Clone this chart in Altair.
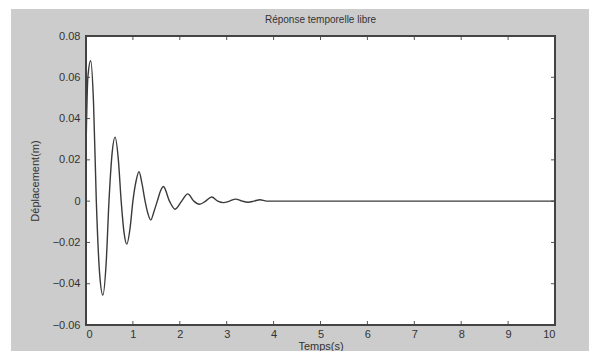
import altair as alt
import pandas as pd

# Time (s) and displacement (m)
t_vals = [0.0, 0.04, 0.10, 0.16, 0.22, 0.29, 0.36, 0.43, 0.49, 0.56, 0.62, 0.69, 0.75, 0.81,
          0.87, 0.94, 1.00, 1.07, 1.13, 1.19, 1.26, 1.32, 1.38, 1.45, 1.52, 1.59, 1.65,
          1.78, 1.90, 2.04, 2.17, 2.30, 2.42, 2.55, 2.68, 2.81, 2.93, 3.06, 3.19, 3.33,
          3.46, 3.58, 3.71, 3.85, 10.0]
d_vals = [0.025, 0.060, 0.068, 0.048, 0.0, -0.035, -0.0455, -0.030, 0.0, 0.024, 0.031, 0.020, 0.0, -0.015,
          -0.0208, -0.013, 0.0, 0.010, 0.0143, 0.009, 0.0, -0.006, -0.0091, -0.005, 0.0, 0.005, 0.0071,
          0.0, -0.0039, 0.0, 0.0035, 0.0, -0.0015, 0.0, 0.002, 0.0, -0.0007, 0.0, 0.001, 0.0,
          -0.0005, 0.0, 0.0007, 0.0, 0.0]

x_ticks = [0, 1, 2, 3, 4, 5, 6, 7, 8, 9, 10]
y_ticks = [-0.06, -0.04, -0.02, 0.0, 0.02, 0.04, 0.06, 0.08]
title_text = ["Réponse temporelle libre"]

W, H = 469, 289
FONT = "Liberation Sans"

df = pd.DataFrame({"t": t_vals, "d": d_vals})
xt = pd.DataFrame({"t": x_ticks})
yt = pd.DataFrame({"d": y_ticks})
tt = pd.DataFrame({"title": title_text})

xscale = alt.Scale(domain=[0, 10], nice=False, zero=False)
yscale = alt.Scale(domain=[-0.06, 0.08], nice=False, zero=False)

# white margins of the figure (top and left), plot area fill
strip_top = alt.Chart(df).mark_rect(color="#ffffff").encode(
    x=alt.value(-90), x2=alt.value(510), y=alt.value(-40), y2=alt.value(-27))
strip_left = alt.Chart(df).mark_rect(color="#ffffff").encode(
    x=alt.value(-90), x2=alt.value(-75), y=alt.value(-40), y2=alt.value(330))
plotbg = alt.Chart(df).mark_rect(color="#ffffff").encode(
    x=alt.value(0), x2=alt.value(W), y=alt.value(0), y2=alt.value(H))

line = alt.Chart(df).mark_line(color="#3a3a3a", strokeWidth=1.4, interpolate="monotone").encode(
    x=alt.X("t:Q", scale=xscale,
            axis=alt.Axis(title="Temps(s)", values=x_ticks, ticks=False, domain=False, grid=False,
                          labelPadding=3, labelFontSize=11, labelColor="#333", labelFont=FONT,
                          titleFont=FONT, titleFontSize=11, titleFontWeight="normal", titleColor="#333",
                          titleY=21, titleBaseline="middle", zindex=2)),
    y=alt.Y("d:Q", scale=yscale,
            axis=alt.Axis(title="Déplacement(m)", values=y_ticks, ticks=False, domain=False, grid=False,
                          labelExpr="datum.value == 0 ? '0' : format(datum.value, '.2f')",
                          labelPadding=6, labelFontSize=11, labelColor="#333", labelFont=FONT,
                          titleFont=FONT, titleFontSize=11, titleFontWeight="normal", titleColor="#333",
                          titleX=-51, titleBaseline="middle", titleAngle=-90, zindex=2)),
)

tick_style = dict(color="#555555", strokeWidth=1)
xb = alt.Chart(xt).mark_rule(**tick_style).encode(x=alt.X("t:Q", scale=xscale), y=alt.value(H), y2=alt.value(H - 4))
xtp = alt.Chart(xt).mark_rule(**tick_style).encode(x=alt.X("t:Q", scale=xscale), y=alt.value(0), y2=alt.value(4))
yl = alt.Chart(yt).mark_rule(**tick_style).encode(y=alt.Y("d:Q", scale=yscale), x=alt.value(0), x2=alt.value(4))
yr = alt.Chart(yt).mark_rule(**tick_style).encode(y=alt.Y("d:Q", scale=yscale), x=alt.value(W - 4), x2=alt.value(W))

frame = alt.Chart(df).mark_rect(fillOpacity=0, stroke="#444444", strokeWidth=1.2).encode(
    x=alt.value(0), x2=alt.value(W), y=alt.value(0), y2=alt.value(H))

title = alt.Chart(tt).mark_text(font=FONT, fontSize=10, color="#333", align="center", baseline="middle").encode(
    text="title:N", x=alt.value(W / 2), y=alt.value(-16))

chart = alt.layer(strip_top, strip_left, plotbg, xb, xtp, yl, yr, line, frame, title).properties(
    width=W, height=H,
    autosize=alt.AutoSizeParams(type="none"),
    padding={"left": 86, "top": 36, "right": 34, "bottom": 26},
    background="#cccccc",
).configure_view(stroke=None, fill=None)

chart.save("out.html", embed_options={"renderer": "svg", "actions": False})
